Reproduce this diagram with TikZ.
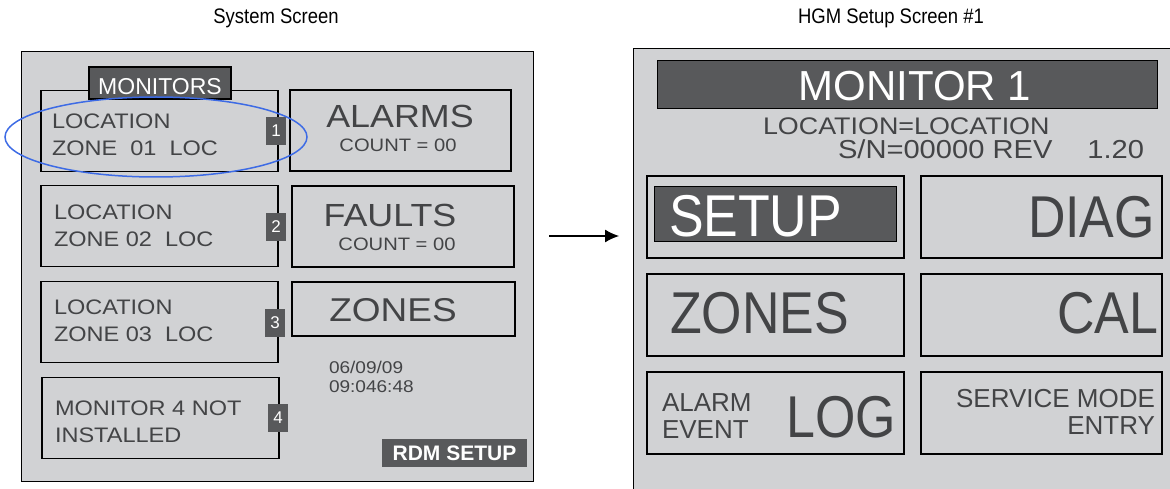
\documentclass[tikz,border=0pt]{standalone}
\usepackage{fontspec}
\setmainfont{Liberation Sans}
\usepackage{graphicx}
\usepackage{color}
\usetikzlibrary{arrows,arrows.meta,positioning,shapes,shapes.geometric,calc}
\definecolor{panel}{HTML}{D1D2D4}
\definecolor{keydark}{HTML}{58595B}
\definecolor{lcdink}{HTML}{434446}
\definecolor{ringblue}{HTML}{3D6BE5}
\newcommand{\fsz}[2]{\fontsize{#1}{#2}\selectfont}
\newcommand{\narrow}[1]{\scalebox{0.88}[1]{#1}}
\newcommand{\wide}[1]{\scalebox{1.12}[1]{#1}}

\begin{document}
\begin{tikzpicture}[x=1pt,y=-1pt,node distance=16pt,
   every node/.style={inner sep=0pt,outer sep=0pt},
   screen/.style={draw=black,fill=panel,line width=1pt},
   monbox/.style={draw=black,fill=panel,line width=1.8pt,minimum width=237pt,minimum height=81pt},
   infobox/.style={draw=black,fill=panel,line width=1.8pt},
   darkbar/.style={draw=black,fill=keydark,line width=1pt},
   badge/.style={fill=keydark,text=white,minimum width=20pt,minimum height=28pt,font=\fsz{17}{17}},
   lcd/.style={text=lcdink,align=left,anchor=west,font=\fsz{21}{27}},
   softkey/.style={draw=black,fill=panel,line width=1.2pt,minimum height=82pt},
   bigword/.style={text=lcdink,font=\fsz{59}{59}},
   smallword/.style={text=lcdink,font=\fsz{26}{27}},
   title/.style={font=\fsz{21}{21}}]
\useasboundingbox (0,0) rectangle (1170,489);

% titles
\node [title] (sys_title) at (276,18) {\narrow{System Screen}};
\node [title] (hgm_title) at (891,18) {\narrow{HGM Setup Screen \#1}};

% system screen
\node [screen,minimum width=512pt,minimum height=429pt] (sys) at (277,266.5) {};
\node [monbox] (mon_1) at (159.5,131) {};
\node [monbox] (mon_2) at (159.5,226) {};
\node [monbox] (mon_3) at (159.5,322) {};
\node [monbox] (mon_4) at (160.5,418) {};
\node [darkbar,line width=1.3pt,minimum width=142pt,minimum height=32pt] (mon_tab) at (160,83) {};
\node [text=white,font=\fsz{23}{23}] (mon_tab_txt) at (160,87) {MONITORS};
\node [lcd] (mon_1_txt) at (52,134.5) {\wide{LOCATION}\\\wide{ZONE\ \ 01\ \ LOC}};
\node [lcd] (mon_2_txt) at (54,225.5) {\wide{LOCATION}\\\wide{ZONE 02\ \ LOC}};
\node [lcd] (mon_3_txt) at (54,321) {\wide{LOCATION}\\\wide{ZONE 03\ \ LOC}};
\node [lcd] (mon_4_txt) at (55,421.5) {\wide{MONITOR 4 NOT}\\\wide{INSTALLED}};
\node [badge] (badge_1) at ([xshift=-2pt]mon_1.east) {1};
\node [badge] (badge_2) at ([xshift=-2pt,yshift=-1pt]mon_2.east) {2};
\node [badge] (badge_3) at ([xshift=-3pt,yshift=-1pt]mon_3.east) {3};
\node [badge] (badge_4) at ([xshift=-1pt]mon_4.east) {4};

\node [infobox,minimum width=221pt,minimum height=81pt] (alarms) at (400.5,130.5) {};
\node [infobox,minimum width=222pt,minimum height=81pt] (faults) at (403,226.5) {};
\node [infobox,minimum width=223pt,minimum height=54pt] (zones) at (403.5,309) {};
\node [text=lcdink,font=\fsz{32}{32}] (alarms_txt) at (400,116) {\wide{ALARMS}};
\node [text=lcdink,font=\fsz{18}{18}] (alarms_cnt) at (398,145) {\wide{COUNT = 00}};
\node [text=lcdink,font=\fsz{32}{32}] (faults_txt) at (390,215) {\wide{FAULTS}};
\node [text=lcdink,font=\fsz{18}{18}] (faults_cnt) at (397,244) {\wide{COUNT = 00}};
\node [text=lcdink,font=\fsz{33}{33}] (zones_txt) at (393,310) {\wide{ZONES}};
\node [lcd,font=\fsz{17}{19}] (clock) at (329,376.5) {\wide{06/09/09}\\\wide{09:046:48}};
\node [fill=keydark,text=white,minimum width=145pt,minimum height=28pt,
       font=\fsz{21}{21}\bfseries] (rdm_setup) at (454.5,453) {RDM SETUP};

% the selected monitor
\node [ellipse,draw=ringblue,line width=1.5pt,minimum width=302pt,minimum height=80pt] (ring) at (156,137) {};

% to the setup screen
\coordinate (arr_start) at (549,236);
\coordinate (arr_end) at (619,236);
\draw [line width=1.2pt,-{Latex[length=14pt,width=13pt]}] (arr_start) -- (arr_end);

% HGM setup screen
\node [screen,minimum width=557pt,minimum height=461pt] (hgm) at (911.5,279.5) {};
\node [darkbar,minimum width=500pt,minimum height=48pt] (hgm_head) at (907,85) {};
\node [text=white,font=\fsz{42}{42}] (hgm_head_txt) at (915,86) {MONITOR 1};
\node [text=lcdink,anchor=west,font=\fsz{24}{24}] (hgm_loc) at (763,126) {\wide{LOCATION=LOCATION}};
\node [text=lcdink,anchor=west,font=\fsz{26}{26}] (hgm_sn) at (838,149) {\wide{S/N=00000 REV\hspace{1.2em}1.20}};

\node [softkey,minimum width=257pt] (setup_key) at (775.5,217) {};
\node [softkey,minimum width=241pt] (diag_key) [right=17pt of setup_key] {};
\node [softkey,minimum width=257pt] (zones_key) [below=of setup_key] {};
\node [softkey,minimum width=241pt] (cal_key) [right=17pt of zones_key] {};
\node [softkey,minimum width=257pt] (log_key) [below=of zones_key] {};
\node [softkey,minimum width=241pt] (service_key) [right=17pt of log_key] {};
\node [darkbar,minimum width=242pt,minimum height=55pt] (setup_sel) at (775,214.5) {};

\node [bigword,text=white,anchor=west] (setup_txt) at (669,216.5) {\narrow{SETUP}};
\node [bigword,anchor=east] (diag_txt) at (1155,217) {\narrow{DIAG}};
\node [bigword,anchor=west] (zones_key_txt) at (670,313.5) {\narrow{ZONES}};
\node [bigword,anchor=east] (cal_txt) at (1158,313.5) {\narrow{CAL}};
\node [bigword,anchor=east] (log_txt) at (896,417.5) {\narrow{LOG}};
\node [smallword,anchor=west,align=left] (alarm_event) at (662,416.5) {ALARM\\EVENT};
\node [smallword,anchor=east,align=right] (service_txt) at (1155,411.5) {SERVICE MODE\\ENTRY};
\end{tikzpicture}
\end{document}
